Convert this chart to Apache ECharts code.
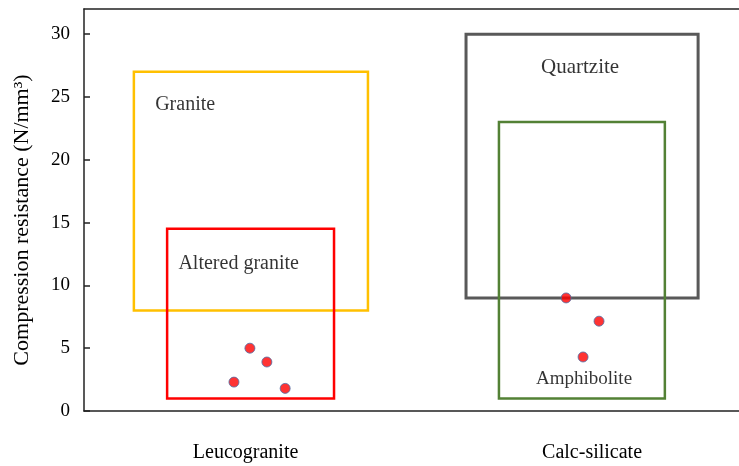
<!DOCTYPE html>
<html>
<head>
<meta charset="utf-8">
<script src="https://cdn.jsdelivr.net/npm/echarts@6/dist/echarts.min.js"></script>
<style>html,body{margin:0;padding:0;background:#fff}#c{width:739px;height:466px}</style>
</head>
<body>
<div id="c"></div>
<script>
const categories = ['Leucogranite', 'Calc-silicate'];
const categoryPos = [0.486, 1.528];
const yTicks = [0, 5, 10, 15, 20, 25, 30];
const yName = 'Compression resistance (N/mm\u00B3)';

const boxNames = ['Granite', 'Altered granite', 'Quartzite', 'Amphibolite'];
const boxXFrom = [0.150, 0.250, 1.149, 1.248];
const boxXTo = [0.854, 0.752, 1.847, 1.747];
const boxMin = [8, 1, 9, 1];
const boxMax = [27, 14.5, 30, 23];
const boxColors = ['#FFC000', '#FF0000', '#595959', '#538135'];
const boxWidths = [2.5, 2.5, 3, 2.5];

const leucoX = [0.499, 0.550, 0.451, 0.605];
const leucoValues = [5.0, 3.9, 2.3, 1.8];
const calcX = [1.450, 1.549, 1.501];
const calcValues = [9.0, 7.15, 4.3];

const FONT = '"Liberation Serif", "DejaVu Serif", serif';

const chart = echarts.init(document.getElementById('c'), null, {renderer: 'canvas'});

const boxData = boxNames.map((n, i) => [boxXFrom[i], boxXTo[i], boxMin[i], boxMax[i], i]);

const labelItems = [
  {name: 'Granite', value: [0.214, 24.4], align: 'left', size: 20},
  {name: 'Altered granite', value: [0.284, 11.7], align: 'left', size: 20},
  {name: 'Quartzite', value: [1.492, 27.36], align: 'center', size: 21},
  {name: 'Amphibolite', value: [1.504, 2.58], align: 'center', size: 19}
];

const frameLine = {show: true, lineStyle: {color: '#222', width: 1.5}};

const option = {
  backgroundColor: '#fff',
  animation: false,
  grid: {left: 84, right: 0, top: 9, bottom: 55, show: false},
  xAxis: [
    {
      type: 'value', min: 0, max: 1.97, position: 'bottom',
      axisLine: frameLine,
      axisTick: {show: false},
      splitLine: {show: false},
      axisLabel: {
        customValues: categoryPos,
        formatter: v => { const k = categoryPos.indexOf(v); return k >= 0 ? categories[k] : ''; },
        fontFamily: FONT, fontSize: 20, color: '#000', margin: 32
      }
    },
    {
      type: 'value', min: 0, max: 1.97, position: 'top',
      axisLine: frameLine,
      axisTick: {show: false},
      splitLine: {show: false},
      axisLabel: {show: false}
    }
  ],
  yAxis: {
    type: 'value', min: 0, max: 32,
    name: yName, nameLocation: 'middle', nameGap: 51,
    nameTextStyle: {fontFamily: FONT, fontSize: 22, color: '#000', padding: [0, 20, 0, 0]},
    axisLine: frameLine,
    axisTick: {show: true, inside: true, length: 6, customValues: yTicks, lineStyle: {color: '#222', width: 1.5}},
    splitLine: {show: false},
    axisLabel: {customValues: yTicks, fontFamily: FONT, fontSize: 19, color: '#000', margin: 14}
  },
  series: [
    {
      type: 'custom',
      data: boxData,
      renderItem: (params, api) => {
        const p0 = api.coord([api.value(0), api.value(3)]);
        const p1 = api.coord([api.value(1), api.value(2)]);
        const idx = api.value(4);
        return {
          type: 'rect',
          shape: {x: p0[0], y: p0[1], width: p1[0] - p0[0], height: p1[1] - p0[1]},
          style: {fill: 'none', stroke: boxColors[idx], lineWidth: boxWidths[idx]}
        };
      },
      silent: true, z: 2
    },
    {
      type: 'scatter',
      data: labelItems.map(d => ({
        name: d.name, value: d.value,
        label: {show: true, formatter: '{b}', position: 'inside', align: d.align, verticalAlign: 'middle',
          fontFamily: FONT, fontSize: d.size, color: '#000'}
      })),
      symbolSize: 0, silent: true, z: 3
    },
    {
      type: 'scatter',
      data: leucoX.map((x, i) => [x, leucoValues[i]]),
      symbol: 'circle', symbolSize: 10,
      itemStyle: {color: '#FF0000', borderColor: '#4F6FA8', borderWidth: 1},
      z: 4
    },
    {
      type: 'scatter',
      data: calcX.map((x, i) => [x, calcValues[i]]),
      symbol: 'circle', symbolSize: 10,
      itemStyle: {color: '#FF0000', borderColor: '#4F6FA8', borderWidth: 1},
      z: 4
    }
  ]
};
chart.setOption(option);
</script>
</body>
</html>
